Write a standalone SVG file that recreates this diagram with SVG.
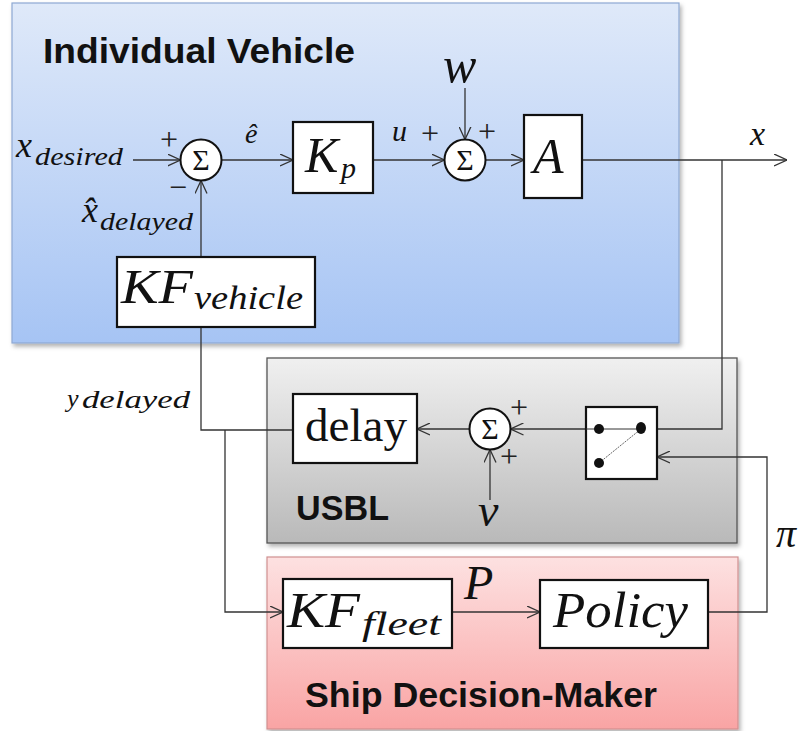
<svg xmlns="http://www.w3.org/2000/svg" width="800" height="731" viewBox="0 0 800 731">
  <defs>
    <linearGradient id="gBlue" x1="0" y1="0" x2="0" y2="1">
      <stop offset="0" stop-color="#dfe9f9"/>
      <stop offset="1" stop-color="#a6c4f4"/>
    </linearGradient>
    <linearGradient id="gGray" x1="0" y1="0" x2="0" y2="1">
      <stop offset="0" stop-color="#f0f0f0"/>
      <stop offset="1" stop-color="#b9b9b9"/>
    </linearGradient>
    <linearGradient id="gPink" x1="0" y1="0" x2="0" y2="1">
      <stop offset="0" stop-color="#fde1e1"/>
      <stop offset="1" stop-color="#f9a4a4"/>
    </linearGradient>
    <filter id="shadow" x="-5%" y="-5%" width="110%" height="115%">
      <feDropShadow dx="2" dy="3" stdDeviation="2" flood-color="#000" flood-opacity="0.3"/>
    </filter>
    <marker id="arrow" viewBox="0 0 13 13" refX="13" refY="6.5" markerWidth="13" markerHeight="13" markerUnits="userSpaceOnUse" orient="auto">
      <path d="M0,0.5 L13,6.5 L0,12.5" fill="none" stroke="#333" stroke-width="1.3"/>
    </marker>
  </defs>
  <style>
    .title { font-family: "Liberation Sans", Arial, sans-serif; font-weight: bold; font-size: 35px; fill: #111; }
    .math { font-family: "Liberation Serif", "Times New Roman", serif; font-style: italic; fill: #111; }
    .rm { font-family: "Liberation Serif", "Times New Roman", serif; fill: #111; }
    .sign { font-family: "Liberation Serif", "Times New Roman", serif; font-size: 32px; fill: #222; }
    .block { fill: #fff; stroke: #111; stroke-width: 2.2; }
    .sum { fill: #fff; stroke: #111; stroke-width: 2; }
    .sumlabel { font-family: "Liberation Serif", "Times New Roman", serif; font-size: 30px; fill: #111; text-anchor: middle; }
    .wire { fill: none; stroke: #333; stroke-width: 1.3; }
    .arr { marker-end: url(#arrow); }
  </style>

  <!-- panels -->
  <g id="panel-vehicle">
    <rect x="12" y="3" width="667" height="340" fill="url(#gBlue)" stroke="#8ea8d2" stroke-width="1.2" filter="url(#shadow)"/>
    <text class="title" x="43" y="63" textLength="312" lengthAdjust="spacingAndGlyphs">Individual Vehicle</text>
  </g>
  <g id="panel-usbl">
    <rect x="267" y="358" width="470" height="185" fill="url(#gGray)" stroke="#555" stroke-width="1.3" filter="url(#shadow)"/>
    <text class="title" x="296" y="520" textLength="93" lengthAdjust="spacingAndGlyphs">USBL</text>
  </g>
  <g id="panel-ship">
    <rect x="267" y="557" width="471" height="172" fill="url(#gPink)" stroke="#d09090" stroke-width="1.2" filter="url(#shadow)"/>
    <text class="title" x="305" y="707" textLength="352" lengthAdjust="spacingAndGlyphs">Ship Decision-Maker</text>
  </g>

  <!-- connectors -->
  <g id="connectors">
    <path class="wire arr" d="M133,160 H180.5"/>
    <path class="wire arr" d="M221.5,160 H293"/>
    <path class="wire arr" d="M373,160 H444.5"/>
    <path class="wire arr" d="M465,88 V139.5"/>
    <path class="wire arr" d="M485.5,160 H524"/>
    <path class="wire arr" d="M582,160 H787"/>
    <path class="wire" d="M722,160 V429 H657"/>
    <path class="wire arr" d="M586,429 H510.5"/>
    <path class="wire arr" d="M469.5,429 H417"/>
    <path class="wire" d="M293,430 H201 V327"/>
    <path class="wire arr" d="M201,257 V180.5"/>
    <path class="wire arr" d="M225,430 V612 H283"/>
    <path class="wire arr" d="M452,612 H540"/>
    <path class="wire arr" d="M708,612 H767 V457 H657"/>
    <path class="wire arr" d="M490,500 V449.5"/>
  </g>

  <!-- signal labels and signs -->
  <g id="labels">
    <text class="math" x="16" y="157" font-size="36">x</text>
    <text class="math" x="35" y="165" font-size="25" textLength="88" lengthAdjust="spacingAndGlyphs">desired</text>

    <text class="math" x="82" y="222" font-size="36">x̂</text>
    <text class="math" x="100" y="230" font-size="25" textLength="93" lengthAdjust="spacingAndGlyphs">delayed</text>

    <text class="math" x="245" y="143" font-size="28">ê</text>

    <text class="math" x="392" y="141" font-size="30">u</text>
    <text class="math" x="443" y="82" font-size="50">w</text>
    <text class="math" x="750" y="145" font-size="34">x</text>

    <text class="math" x="67" y="407" font-size="26">y</text>
    <text class="math" x="82" y="408" font-size="25" textLength="108" lengthAdjust="spacingAndGlyphs">delayed</text>

    <text class="math" x="478" y="526" font-size="46">v</text>
    <text class="math" x="464" y="599" font-size="48">P</text>
    <text class="math" x="776" y="547" font-size="40">π</text>

    <text class="sign" x="160" y="150">+</text>
    <text class="sign" x="169" y="198">−</text>
    <text class="sign" x="421" y="144">+</text>
    <text class="sign" x="478" y="142">+</text>
    <text class="sign" x="510" y="418">+</text>
    <text class="sign" x="500" y="467">+</text>
  </g>

  <!-- summing junctions -->
  <g id="sum-error">
    <circle class="sum" cx="201" cy="160" r="20.5"/>
    <text class="sumlabel" x="201" y="170">Σ</text>
  </g>
  <g id="sum-input">
    <circle class="sum" cx="465" cy="160" r="20.5"/>
    <text class="sumlabel" x="465" y="170">Σ</text>
  </g>
  <g id="sum-noise">
    <circle class="sum" cx="490" cy="429" r="20.5"/>
    <text class="sumlabel" x="490" y="439">Σ</text>
  </g>

  <!-- blocks -->
  <g id="block-kp">
    <rect class="block" x="293" y="122" width="80" height="71"/>
    <text class="math" x="305" y="172" font-size="50">K</text>
    <text class="math" x="341" y="178" font-size="30">p</text>
  </g>
  <g id="block-a">
    <rect class="block" x="524" y="115" width="58" height="83"/>
    <text class="math" x="533" y="173" font-size="50">A</text>
  </g>
  <g id="block-kf-vehicle">
    <rect class="block" x="117" y="257" width="198" height="70"/>
    <text class="math" x="121" y="303" font-size="48" textLength="72" lengthAdjust="spacingAndGlyphs">KF</text>
    <text class="math" x="194" y="309" font-size="34" textLength="109" lengthAdjust="spacingAndGlyphs">vehicle</text>
  </g>
  <g id="block-delay">
    <rect class="block" x="293" y="394" width="124" height="69"/>
    <text class="rm" x="305" y="441" font-size="46" textLength="102" lengthAdjust="spacingAndGlyphs">delay</text>
  </g>
  <g id="block-switch">
    <rect class="block" x="586" y="407" width="71" height="72"/>
    <line x1="586" y1="429" x2="641" y2="429" stroke="#333" stroke-width="1"/>
    <line x1="599" y1="463" x2="641" y2="429" stroke="#666" stroke-width="1" stroke-dasharray="2,1"/>
    <circle cx="599" cy="429" r="5" fill="#111"/>
    <ellipse cx="641" cy="428" rx="5" ry="6" fill="#111"/>
    <circle cx="599" cy="463" r="5" fill="#111"/>
  </g>
  <g id="block-kf-fleet">
    <rect class="block" x="283" y="579" width="169" height="69"/>
    <text class="math" x="287" y="627" font-size="50" textLength="73" lengthAdjust="spacingAndGlyphs">KF</text>
    <text class="math" x="362" y="635" font-size="34" textLength="79" lengthAdjust="spacingAndGlyphs">fleet</text>
  </g>
  <g id="block-policy">
    <rect class="block" x="540" y="580" width="168" height="68"/>
    <text class="math" x="553" y="627" font-size="50" textLength="135" lengthAdjust="spacingAndGlyphs">Policy</text>
  </g>
</svg>
